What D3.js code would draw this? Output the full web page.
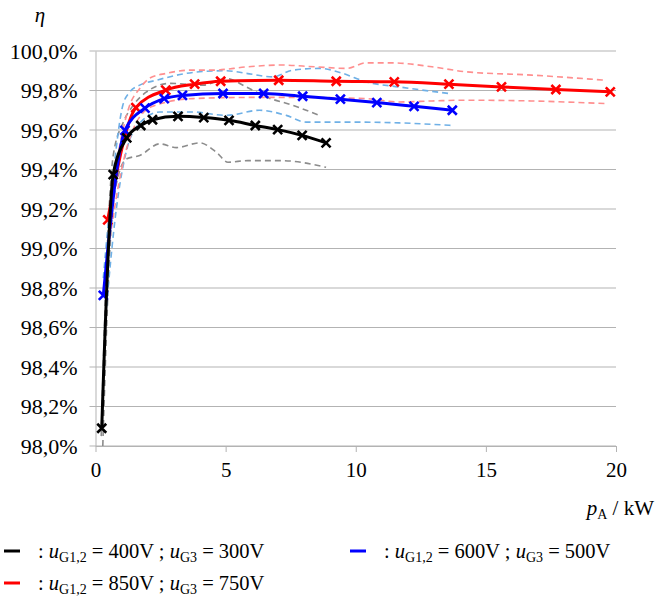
<!DOCTYPE html>
<html>
<head>
<meta charset="utf-8">
<script src="https://cdn.jsdelivr.net/npm/d3@7"></script>
<style>
  body { margin: 0; background: #fff; }
  text { font-family: "Liberation Serif", "Times New Roman", serif; fill: #000; }
</style>
</head>
<body>
<div class="canvas"></div>
<script>

// measured points  [p_A in kW, eta in %]
const black = [[0.24, 98.09], [0.68, 99.374], [1.20, 99.56], [1.74, 99.623], [2.19, 99.652], [3.17, 99.669],
  [4.16, 99.663], [5.13, 99.649], [6.14, 99.623], [7.00, 99.602], [7.94, 99.573], [8.86, 99.535]];
const blue = [[0.30, 98.763], [1.13, 99.598], [1.90, 99.711], [2.64, 99.759], [3.34, 99.775], [4.90, 99.785],
  [6.46, 99.785], [7.96, 99.771], [9.41, 99.756], [10.81, 99.739], [12.24, 99.72], [13.71, 99.70]];
const red = [[0.47, 99.145], [1.55, 99.713], [2.70, 99.802], [3.81, 99.832], [4.81, 99.847], [7.04, 99.852],
  [9.25, 99.847], [11.48, 99.844], [13.58, 99.832], [15.60, 99.818], [17.69, 99.805], [19.78, 99.793]];

// dashed bands round each series
const blackUpper = [[0.22, 98.05], [0.45, 99.0], [0.68, 99.47], [1.07, 99.64], [1.45, 99.725], [1.96, 99.793],
  [2.85, 99.836], [4.13, 99.827], [5.03, 99.861], [5.79, 99.818], [6.56, 99.767], [7.58, 99.725], [8.60, 99.674]];
const blackLower = [[0.28, 98.0], [0.6, 99.1], [0.9, 99.38], [1.20, 99.454], [1.70, 99.471], [2.47, 99.53],
  [3.11, 99.511], [4.00, 99.535], [4.64, 99.488], [5.09, 99.437], [5.85, 99.445], [7.13, 99.445], [8.86, 99.411]];
const blueUpper = [[0.3, 98.85], [0.7, 99.4], [1.05, 99.725], [1.32, 99.793], [1.70, 99.827], [2.34, 99.852],
  [4.00, 99.895], [5.03, 99.9], [5.79, 99.887], [6.81, 99.869], [7.58, 99.903], [8.60, 99.912], [9.49, 99.887],
  [10.39, 99.844], [11.67, 99.818], [13.58, 99.785]];
const blueLower = [[0.35, 98.6], [0.8, 99.2], [1.2, 99.5], [1.6, 99.62], [2.47, 99.691], [3.74, 99.691],
  [5.03, 99.674], [6.3, 99.7], [7.33, 99.674], [8.09, 99.64], [10.13, 99.64], [11.67, 99.636], [13.71, 99.623]];
const redUpper = [[0.5, 99.15], [0.9, 99.5], [1.3, 99.72], [1.70, 99.81], [2.09, 99.863], [2.73, 99.887],
  [3.62, 99.903], [4.50, 99.903], [5.84, 99.92], [7.13, 99.929], [8.41, 99.92], [9.67, 99.912], [10.39, 99.94],
  [11.40, 99.94], [12.93, 99.92], [14.22, 99.895], [16.76, 99.878], [19.59, 99.852]];
const redLower = [[0.55, 99.05], [1.0, 99.4], [1.5, 99.62], [2.2, 99.72], [3.74, 99.759], [6.0, 99.765],
  [8.0, 99.765], [10.39, 99.759], [11.67, 99.742], [12.93, 99.747], [14.22, 99.751], [16.76, 99.747], [19.59, 99.734]];

const yTicks = [98.0, 98.2, 98.4, 98.6, 98.8, 99.0, 99.2, 99.4, 99.6, 99.8, 100.0];
const xTicks = [0, 5, 10, 15, 20];

const legendItems = [
  { colour: '#000', g12: '400V', g3: '300V', col: 0, row: 0 },
  { colour: '#0000ff', g12: '600V', g3: '500V', col: 1, row: 0 },
  { colour: '#ff0000', g12: '850V', g3: '750V', col: 0, row: 1 }
];

const dims = { width: 656, height: 601 };
const plot = { left: 95.5, right: 616, top: 51, bottom: 446 };
const serif = '"Liberation Serif", "Times New Roman", serif';

const svg = d3.select('.canvas')
  .append('svg')
  .attr('width', dims.width)
  .attr('height', dims.height);

const x = d3.scaleLinear().domain([0, 20]).range([plot.left, plot.right]);
const y = d3.scaleLinear().domain([98, 100]).range([plot.bottom, plot.top]);

// grid lines
svg.append('g')
  .selectAll('line')
  .data(yTicks)
  .enter().append('line')
    .attr('x1', plot.left - 6)
    .attr('x2', plot.right)
    .attr('y1', d => y(d))
    .attr('y2', d => y(d))
    .attr('stroke', '#b3b3b3')
    .attr('stroke-width', 1);

// y axis
const yAxis = d3.axisLeft(y).tickValues(yTicks).tickSize(0).tickPadding(18)
  .tickFormat(d => d3.format('.1f')(d).replace('.', ',') + '%');
svg.append('g')
  .attr('transform', `translate(${plot.left}, 0)`)
  .call(yAxis)
  .attr('font-family', null)
  .attr('font-size', null)
  .call(g => g.select('.domain').attr('stroke', '#b3b3b3'))
  .call(g => g.selectAll('text')
    .style('font-size', '22px')
    .style('font-family', serif));

// x axis
const xAxis = d3.axisBottom(x).tickValues(xTicks).tickSize(6).tickPadding(10).tickSizeOuter(0);
svg.append('g')
  .attr('transform', `translate(0, ${plot.bottom})`)
  .call(xAxis)
  .attr('font-family', null)
  .attr('font-size', null)
  .call(g => g.select('.domain').attr('stroke', '#b3b3b3'))
  .call(g => g.selectAll('.tick line').attr('stroke', '#b3b3b3'))
  .call(g => g.selectAll('text')
    .style('font-size', '21px')
    .style('font-family', serif));

const line = d3.line()
  .x(d => x(d[0]))
  .y(d => y(d[1]))
  .curve(d3.curveMonotoneX);

// dashed bands
const bands = [
  { data: blackUpper, colour: '#8c8c8c' }, { data: blackLower, colour: '#8c8c8c' },
  { data: blueUpper, colour: '#6fb0e6' }, { data: blueLower, colour: '#6fb0e6' },
  { data: redUpper, colour: '#ff8f8f' }, { data: redLower, colour: '#ff8f8f' }
];
svg.append('g')
  .selectAll('path')
  .data(bands)
  .enter().append('path')
    .attr('d', d => line(d.data))
    .attr('fill', 'none')
    .attr('stroke', d => d.colour)
    .attr('stroke-width', 1.6)
    .attr('stroke-dasharray', '6,4');

// main series
const series = [
  { data: red, colour: '#ff0000' },
  { data: blue, colour: '#0000ff' },
  { data: black, colour: '#000000' }
];

const sg = svg.selectAll('.series')
  .data(series)
  .enter().append('g')
    .attr('class', 'series');

sg.append('path')
  .attr('d', d => line(d.data))
  .attr('fill', 'none')
  .attr('stroke', d => d.colour)
  .attr('stroke-width', 3);

sg.each(function(s) {
  d3.select(this).selectAll('.mark')
    .data(s.data)
    .enter().append('path')
      .attr('class', 'mark')
      .attr('transform', d => `translate(${x(d[0])}, ${y(d[1])})`)
      .attr('d', 'M-4.5,-4.5L4.5,4.5M-4.5,4.5L4.5,-4.5')
      .attr('stroke', s.colour)
      .attr('stroke-width', 2.6)
      .attr('fill', 'none');
});

// axis titles
svg.append('text')
  .attr('x', 40)
  .attr('y', 22)
  .attr('text-anchor', 'middle')
  .attr('font-size', 21)
  .attr('font-style', 'italic')
  .text('η');

const xt = svg.append('text')
  .attr('x', 654)
  .attr('y', 515)
  .attr('text-anchor', 'end')
  .attr('font-size', 21);
xt.append('tspan').attr('font-style', 'italic').text('p');
xt.append('tspan').attr('font-size', 14).attr('dy', 4).text('A');
xt.append('tspan').attr('dy', -4).text(' / kW');

// legend
const lg = svg.selectAll('.legend')
  .data(legendItems)
  .enter().append('g')
    .attr('class', 'legend')
    .attr('transform', d => `translate(${d.col ? 350 : 4}, ${d.row ? 583 : 551})`);

lg.append('line')
  .attr('x1', 0).attr('x2', 16)
  .attr('y1', 0).attr('y2', 0)
  .attr('stroke', d => d.colour)
  .attr('stroke-width', 3);

const lt = lg.append('text')
  .attr('x', 34)
  .attr('y', 7)
  .attr('font-size', 20.5);
lt.append('tspan').text(': ');
lt.append('tspan').attr('font-style', 'italic').text('u');
lt.append('tspan').attr('font-size', 14).attr('dy', 4).text('G1,2');
lt.append('tspan').attr('dy', -4).text(d => ' = ' + d.g12 + ' ; ');
lt.append('tspan').attr('font-style', 'italic').text('u');
lt.append('tspan').attr('font-size', 14).attr('dy', 4).text('G3');
lt.append('tspan').attr('dy', -4).text(d => ' = ' + d.g3);

</script>
</body>
</html>
